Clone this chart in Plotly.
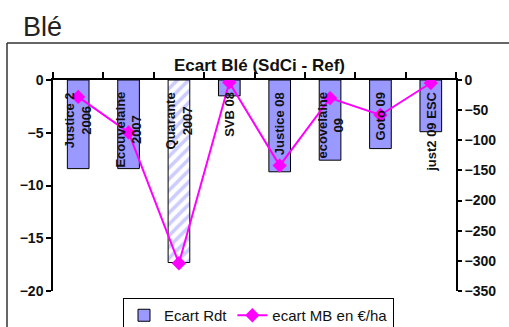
import plotly.graph_objects as go

categories = ["Justice 2<br>2006", "Ecouvelaine<br>2007", "Quarante<br>2007", "SVB 08",
              "Justice 08", "ecovelaine<br>09", "Goto 09", "just2 09 ESC"]
ecart_rdt = [-8.4, -8.4, -17.3, -1.5, -8.7, -7.6, -6.5, -4.9]
ecart_mb = [-28, -87, -304, -4, -142, -30, -58, -5]
left_ticks = [0, -5, -10, -15, -20]
right_ticks = [0, -50, -100, -150, -200, -250, -300, -350]
bar_patterns = ["", "", "/", "", "", "", "", ""]

FONT = "Liberation Sans, Arial, sans-serif"
xpos = [i + 0.5 for i in range(len(categories))]

fig = go.Figure()
fig.add_trace(go.Bar(
    x=xpos, y=ecart_rdt, name="Ecart Rdt", width=0.43,
    marker=dict(color="#9999ff", line=dict(color="black", width=1),
                pattern=dict(shape=bar_patterns, fgcolor="#9999ff", bgcolor="white",
                             size=8, solidity=0.45)),
))
fig.add_trace(go.Scatter(
    x=xpos, y=ecart_mb, name="ecart MB en €/ha", yaxis="y2", mode="lines+markers",
    line=dict(color="#ff00ff", width=2),
    marker=dict(symbol="diamond", size=11, color="#ff00ff"),
))

for xp, lab in zip(xpos, categories):
    fig.add_annotation(x=xp, y=0, xref="x", yref="y", text=lab, textangle=-90,
                       showarrow=False, yanchor="top", xanchor="center", yshift=-10,
                       align="center",
                       font=dict(family=FONT, size=13, color="#111", weight="bold"))

fig.add_annotation(x=(259 - 53) / 403, y=(291 - 65) / 211, xref="paper", yref="paper",
                   text="<b>Ecart Blé (SdCi - Ref)</b>", showarrow=False,
                   xanchor="center", yanchor="middle",
                   font=dict(family=FONT, size=17, color="#111"))

# outer frame (left and top edges visible)
fx0, fy0 = (7 - 53) / 403, (291 - 43) / 211
fig.add_shape(type="line", xref="paper", yref="paper", x0=fx0, y0=fy0, x1=1.2, y1=fy0,
              line=dict(color="#333", width=1.5))
fig.add_shape(type="line", xref="paper", yref="paper", x0=fx0, y0=fy0, x1=fx0, y1=-0.3,
              line=dict(color="#333", width=1.5))

fig.update_layout(
    width=509, height=327,
    margin=dict(l=53, r=53, t=80, b=36, autoexpand=False),
    paper_bgcolor="white", plot_bgcolor="white",
    font=dict(family=FONT, color="#111"),
    title=dict(text="Blé", x=23 / 509, xanchor="left", xref="container",
               y=1 - 27 / 327, yanchor="middle", yref="container",
               font=dict(family=FONT, size=27, color="#222")),
    xaxis=dict(range=[0, 8], side="top", showline=True, linecolor="black", linewidth=1.5,
               tickvals=list(range(9)), showticklabels=False, ticks="outside", ticklen=6,
               tickcolor="black", tickwidth=1.5, showgrid=False, zeroline=False,
               automargin=False),
    yaxis=dict(range=[-20, 0], tickvals=left_ticks, showline=True, linecolor="black",
               linewidth=1.5, ticks="outside", ticklen=5, tickcolor="black", tickwidth=1.5,
               showgrid=False, zeroline=False, automargin=False,
               tickfont=dict(family=FONT, size=14, color="#111", weight="bold")),
    yaxis2=dict(range=[-350, 0], overlaying="y", side="right", tickvals=right_ticks,
                showline=True, linecolor="black", linewidth=1.5, ticks="outside", ticklen=4,
                tickcolor="black", tickwidth=1.5, showgrid=False, zeroline=False,
                automargin=False,
                tickfont=dict(family=FONT, size=14, color="#111", weight="bold")),
    legend=dict(orientation="h", x=(123 - 53) / 403, y=(291 - 298) / 211,
                xanchor="left", yanchor="top", bordercolor="black", borderwidth=1,
                font=dict(family=FONT, size=15, color="#111"), bgcolor="white"),
    showlegend=True,
)

fig.write_html("out.html", config={"displayModeBar": False},
               post_script="document.body.style.margin='0';")
